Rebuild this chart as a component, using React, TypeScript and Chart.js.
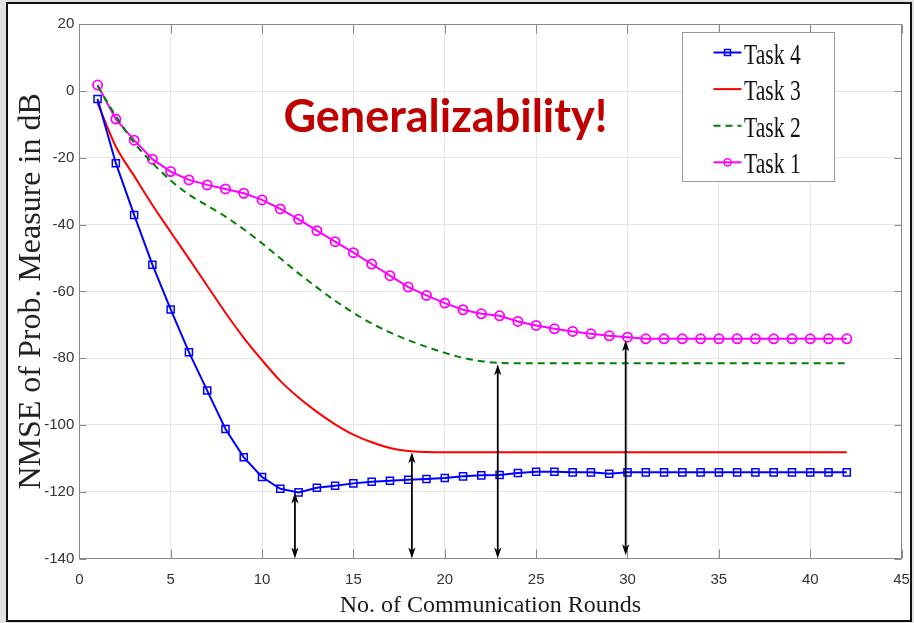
import React, { useEffect, useRef } from "react";
import { Chart, registerables } from "chart.js";

Chart.register(...registerables);

// ---------- data ----------
const rounds = [
  1, 2, 3, 4, 5, 6, 7, 8, 9, 10, 11, 12, 13, 14, 15, 16, 17, 18, 19, 20, 21,
  22, 23, 24, 25, 26, 27, 28, 29, 30, 31, 32, 33, 34, 35, 36, 37, 38, 39, 40,
  41, 42,
];

const task4 = [
  -2.4, -21.6, -37.1, -52.0, -65.4, -78.2, -89.7, -101.2, -109.7, -115.6,
  -119.1, -120.2, -118.8, -118.2, -117.5, -117.0, -116.7, -116.4, -116.2,
  -115.9, -115.4, -115.1, -115.0, -114.4, -114.0, -114.0, -114.2, -114.2,
  -114.6, -114.2, -114.2, -114.2, -114.2, -114.2, -114.2, -114.2, -114.2,
  -114.2, -114.2, -114.2, -114.2, -114.2,
];

const task3 = [
  -3.6, -16.6, -25.4, -34.1, -42.2, -50.2, -58.3, -66.4, -73.9, -80.6, -86.8,
  -91.8, -96.1, -99.8, -102.9, -105.2, -106.9, -107.8, -108.1, -108.2, -108.2,
  -108.2, -108.2, -108.2, -108.2, -108.2, -108.2, -108.2, -108.2, -108.2,
  -108.2, -108.2, -108.2, -108.2, -108.2, -108.2, -108.2, -108.2, -108.2,
  -108.2, -108.2, -108.2,
];

const task2 = [
  1.5, -7.5, -15.5, -21.5, -26.8, -31.0, -34.3, -37.6, -41.4, -45.6, -50.1,
  -54.6, -58.8, -62.8, -66.4, -69.6, -72.3, -74.6, -76.6, -78.4, -79.9, -80.9,
  -81.4, -81.5, -81.5, -81.5, -81.5, -81.5, -81.5, -81.5, -81.5, -81.5, -81.5,
  -81.5, -81.5, -81.5, -81.5, -81.5, -81.5, -81.5, -81.5, -81.5,
];

const task1 = [
  1.8, -8.4, -14.7, -20.4, -24.1, -26.6, -28.1, -29.3, -30.6, -32.6, -35.3,
  -38.4, -41.8, -45.1, -48.4, -51.8, -55.3, -58.7, -61.2, -63.5, -65.5, -66.7,
  -67.3, -69.0, -70.2, -71.2, -72.0, -72.7, -73.3, -73.7, -74.2, -74.2, -74.2,
  -74.2, -74.2, -74.2, -74.2, -74.2, -74.2, -74.2, -74.2, -74.2,
];

const seriesLabels = ["Task 4", "Task 3", "Task 2", "Task 1"];

// double-headed arrows (data coordinates)
const arrowRounds = [11.8, 18.2, 22.9, 29.9];
const arrowTops = [-120.2, -108.2, -81.8, -74.6];
const arrowBottoms = [-140, -140, -140, -139];

const annotationText = "Generalizability!";
const annotationRound = 11.17;
const annotationValue = -12.2;

const xAxisTitle = "No. of Communication Rounds";
const yAxisTitle = "NMSE of Prob. Measure in dB";

// ---------- helpers ----------
function arrowHead(ctx: CanvasRenderingContext2D, x: number, y: number, dir: number) {
  const len = 11;
  const hw = 3.6;
  const notch = 3;
  ctx.beginPath();
  ctx.moveTo(x, y);
  ctx.lineTo(x - hw, y - dir * len);
  ctx.lineTo(x, y - dir * (len - notch));
  ctx.lineTo(x + hw, y - dir * len);
  ctx.closePath();
  ctx.fill();
}

const overlayPlugin = {
  id: "overlayPlugin",
  afterDatasetsDraw(chart: any) {
    const { ctx, chartArea: a, scales } = chart;
    const xs = scales.x;
    const ys = scales.y;
    ctx.save();

    // axes box
    const L = Math.round(a.left) + 0.5;
    const R = Math.round(a.right) - 0.5;
    const T = Math.round(a.top) + 0.5;
    const B = Math.round(a.bottom) - 0.5;
    ctx.strokeStyle = "#8a8a8a";
    ctx.lineWidth = 1;
    ctx.setLineDash([]);
    ctx.strokeRect(L, T, R - L, B - T);

    // inward ticks on all four sides
    ctx.beginPath();
    xs.ticks.forEach((t: any) => {
      const px = Math.round(xs.getPixelForValue(t.value)) + 0.5;
      ctx.moveTo(px, B);
      ctx.lineTo(px, B - 9);
      ctx.moveTo(px, T);
      ctx.lineTo(px, T + 9);
    });
    ys.ticks.forEach((t: any) => {
      const py = Math.round(ys.getPixelForValue(t.value)) + 0.5;
      ctx.moveTo(L, py);
      ctx.lineTo(L + 7, py);
      ctx.moveTo(R, py);
      ctx.lineTo(R - 7, py);
    });
    ctx.stroke();

    // arrows
    ctx.strokeStyle = "#000";
    ctx.fillStyle = "#000";
    ctx.lineWidth = 1.8;
    arrowRounds.forEach((r, i) => {
      const px = xs.getPixelForValue(r);
      const yt = ys.getPixelForValue(arrowTops[i]);
      const yb = ys.getPixelForValue(arrowBottoms[i]);
      ctx.beginPath();
      ctx.moveTo(px, yt + 8);
      ctx.lineTo(px, yb - 8);
      ctx.stroke();
      arrowHead(ctx, px, yt, -1);
      arrowHead(ctx, px, yb, 1);
    });

    // annotation
    ctx.fillStyle = "#c00000";
    ctx.font = 'bold 45px Lato, "Open Sans", "Noto Sans", sans-serif';
    ctx.textBaseline = "alphabetic";
    ctx.textAlign = "left";
    ctx.fillText(
      annotationText,
      xs.getPixelForValue(annotationRound),
      ys.getPixelForValue(annotationValue)
    );

    // legend (inside the axes, top right)
    const bw = 152;
    const bh = 149;
    const bx = Math.round(a.right - 220) + 0.5;
    const by = Math.round(a.top + 8) + 0.5;
    ctx.fillStyle = "#ffffff";
    ctx.fillRect(bx, by, bw, bh);
    ctx.strokeStyle = "#9a9a9a";
    ctx.lineWidth = 1;
    ctx.strokeRect(bx, by, bw, bh);

    chart.data.datasets.forEach((ds: any, i: number) => {
      const base = by + 31 + i * 36.6;
      const ly = base - 11;
      const x0 = bx + 31;
      const x1 = bx + 59;
      const xc = (x0 + x1) / 2;
      ctx.strokeStyle = ds.borderColor;
      ctx.lineWidth = 2;
      ctx.setLineDash(ds.borderDash || []);
      ctx.beginPath();
      ctx.moveTo(x0, ly);
      ctx.lineTo(x1, ly);
      ctx.stroke();
      ctx.setLineDash([]);
      if (ds.pointRadius > 0) {
        ctx.lineWidth = 1.5;
        ctx.beginPath();
        if (ds.pointStyle === "rect") {
          ctx.rect(xc - 3, ly - 3, 6, 6);
        } else {
          ctx.arc(xc, ly, 3.6, 0, Math.PI * 2);
        }
        ctx.stroke();
      }
      ctx.fillStyle = "#111";
      ctx.font = '30px "Liberation Serif", "Times New Roman", serif';
      ctx.textBaseline = "alphabetic";
      ctx.save();
      ctx.translate(bx + 61.5, base);
      ctx.scale(0.72, 1);
      ctx.fillText(ds.label, 0, 0);
      ctx.restore();
    });

    ctx.restore();
  },
};

export default function App() {
  const canvasRef = useRef<HTMLCanvasElement | null>(null);

  useEffect(() => {
    const canvas = canvasRef.current;
    if (!canvas) return;

    const tickFont = { family: '"Liberation Sans", Arial, sans-serif', size: 15 };
    const serif = '"Liberation Serif", "Times New Roman", serif';

    const toPoints = (vals: number[]) => rounds.map((r, i) => ({ x: r, y: vals[i] }));

    const chart = new Chart(canvas, {
      type: "line",
      data: {
        datasets: [
          {
            label: seriesLabels[0],
            data: toPoints(task4),
            borderColor: "#0000ff",
            borderWidth: 2,
            pointStyle: "rect",
            pointRadius: 5,
            pointBorderWidth: 1.5,
            pointBorderColor: "#0000ff",
            pointBackgroundColor: "rgba(0,0,0,0)",
            fill: false,
            tension: 0,
          },
          {
            label: seriesLabels[1],
            data: toPoints(task3),
            borderColor: "#ff0000",
            borderWidth: 2,
            pointRadius: 0,
            fill: false,
            cubicInterpolationMode: "monotone",
          },
          {
            label: seriesLabels[2],
            data: toPoints(task2),
            borderColor: "#008000",
            borderWidth: 2,
            borderDash: [7, 5],
            pointRadius: 0,
            fill: false,
            cubicInterpolationMode: "monotone",
          },
          {
            label: seriesLabels[3],
            data: toPoints(task1),
            borderColor: "#ff00ff",
            borderWidth: 2,
            pointStyle: "circle",
            pointRadius: 4.6,
            pointBorderWidth: 1.8,
            pointBorderColor: "#ff00ff",
            pointBackgroundColor: "rgba(0,0,0,0)",
            fill: false,
            tension: 0,
          },
        ] as any,
      },
      options: {
        animation: false,
        responsive: false,
        devicePixelRatio: 1,
        layout: { padding: { left: 0, top: 24.3, right: 12.4, bottom: 0 } },
        plugins: {
          legend: { display: false },
          title: { display: false },
          tooltip: { enabled: false },
        },
        scales: {
          x: {
            type: "linear",
            min: 0,
            max: 45,
            ticks: { stepSize: 5, padding: 3, color: "#333", font: tickFont, maxRotation: 0 },
            grid: {
              color: "#e6e6e6",
              drawTicks: true,
              tickLength: 9,
              tickColor: "rgba(0,0,0,0)",
            },
            border: { display: false },
            title: {
              display: true,
              text: xAxisTitle,
              color: "#1a1a1a",
              font: { family: serif, size: 24 },
              padding: { top: 0, bottom: 3 },
            },
            afterFit: (s: any) => {
              s.height = 64.5;
            },
          },
          y: {
            type: "linear",
            min: -140,
            max: 20,
            ticks: { stepSize: 20, padding: 5, color: "#333", font: tickFont },
            grid: { color: "#e6e6e6", drawTicks: false, tickLength: 0 },
            border: { display: false },
            title: {
              display: true,
              text: yAxisTitle,
              color: "#222",
              font: { family: serif, size: 32 },
              padding: { top: 12, bottom: 0 },
            },
            afterFit: (s: any) => {
              s.width = 79.3;
            },
          },
        } as any,
      },
      plugins: [overlayPlugin],
    });

    return () => chart.destroy();
  }, []);

  return (
    <div
      style={{
        position: "fixed",
        left: 0,
        top: 0,
        width: 914,
        height: 623,
        background: "#e2e2e2",
        overflow: "hidden",
      }}
    >
      <div
        style={{
          position: "absolute",
          left: 6,
          top: 2,
          right: 2,
          bottom: 1,
          border: "2px solid #111",
          background: "#ffffff",
          boxSizing: "border-box",
        }}
      />
      <canvas
        ref={canvasRef}
        width={914}
        height={623}
        style={{ position: "absolute", left: 0, top: 0, display: "block" }}
      />
    </div>
  );
}
